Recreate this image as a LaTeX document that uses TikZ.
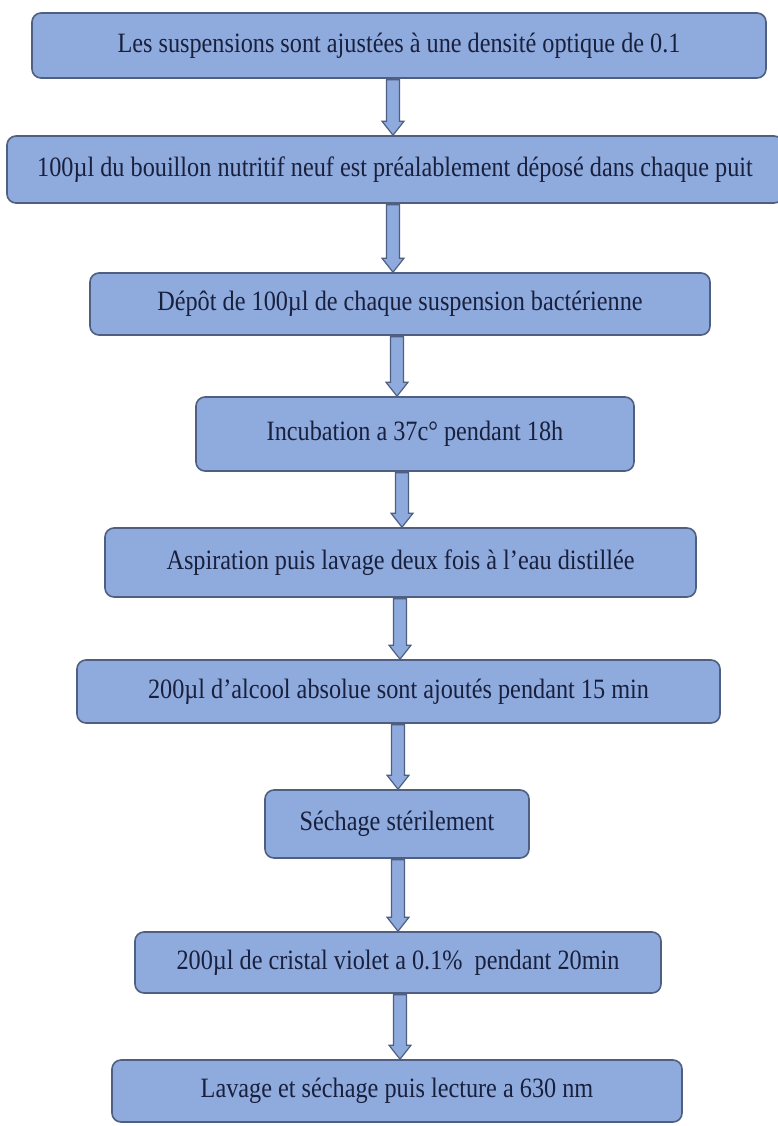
\documentclass[tikz,border=0pt]{standalone}
\usepackage{fontspec}
\setmainfont{Liberation Serif}[FakeStretch=0.866]
\usetikzlibrary{calc}
\definecolor{boxfill}{HTML}{8FAADC}
\definecolor{boxline}{HTML}{4E5F82}
\definecolor{txt}{HTML}{18203D}
\tikzset{
  stepbox/.style={draw=boxline, fill=boxfill, line width=1.6pt, rounded corners=9pt,
    inner sep=0pt, text=txt, font=\fontsize{28}{32}\selectfont, align=center},
  blockarrow/.style={draw=boxline, fill=boxfill, line width=1.2pt, line join=miter}
}
% #1 from node, #2 to node, #3 x position (pt)
\newcommand\blockarr[3]{%
  \path let \p1=(#1.south), \p2=(#2.north) in
    [blockarrow] (#3pt-6.5pt,\y1-1pt) -- (#3pt+6.5pt,\y1-1pt) -- (#3pt+6.5pt,\y2+14pt)
    -- (#3pt+11pt,\y2+14pt) -- (#3pt,\y2) -- (#3pt-11pt,\y2+14pt) -- (#3pt-6.5pt,\y2+14pt) -- cycle;}
\begin{document}
\begin{tikzpicture}[x=1pt,y=-1pt]
\useasboundingbox[fill=white] (0,0) rectangle (777,1126);
\node[stepbox, minimum width=734pt, minimum height=65pt] (b1) at (399,45.5)
  {Les suspensions sont ajustées à une densité optique de 0.1};
\node[stepbox, minimum width=776pt, minimum height=67pt] (b2) at (395,169.5)
  {100µl du bouillon nutritif neuf est préalablement déposé dans chaque puit};
\node[stepbox, minimum width=620pt, minimum height=62pt] (b3) at (400,304)
  {Dépôt de 100µl de chaque suspension bactérienne};
\node[stepbox, minimum width=438pt, minimum height=74pt] (b4) at (415,434)
  {Incubation a 37c° pendant 18h};
\node[stepbox, minimum width=591pt, minimum height=69pt] (b5) at (400.5,562.5)
  {Aspiration puis lavage deux fois à l’eau distillée};
\node[stepbox, minimum width=643pt, minimum height=63pt] (b6) at (398.5,691.5)
  {200µl d’alcool absolue sont ajoutés pendant 15 min};
\node[stepbox, minimum width=264pt, minimum height=68pt] (b7) at (397,824)
  {Séchage stérilement};
\node[stepbox, minimum width=526pt, minimum height=61pt] (b8) at (398,962.5)
  {200µl de cristal violet a 0.1\%\ \ pendant 20min};
\node[stepbox, minimum width=570pt, minimum height=62pt] (b9) at (397,1091)
  {Lavage et séchage puis lecture a 630 nm};
\blockarr{b1}{b2}{393}
\blockarr{b2}{b3}{393}
\blockarr{b3}{b4}{397}
\blockarr{b4}{b5}{402}
\blockarr{b5}{b6}{400}
\blockarr{b6}{b7}{398}
\blockarr{b7}{b8}{398}
\blockarr{b8}{b9}{400}
\end{tikzpicture}
\end{document}
